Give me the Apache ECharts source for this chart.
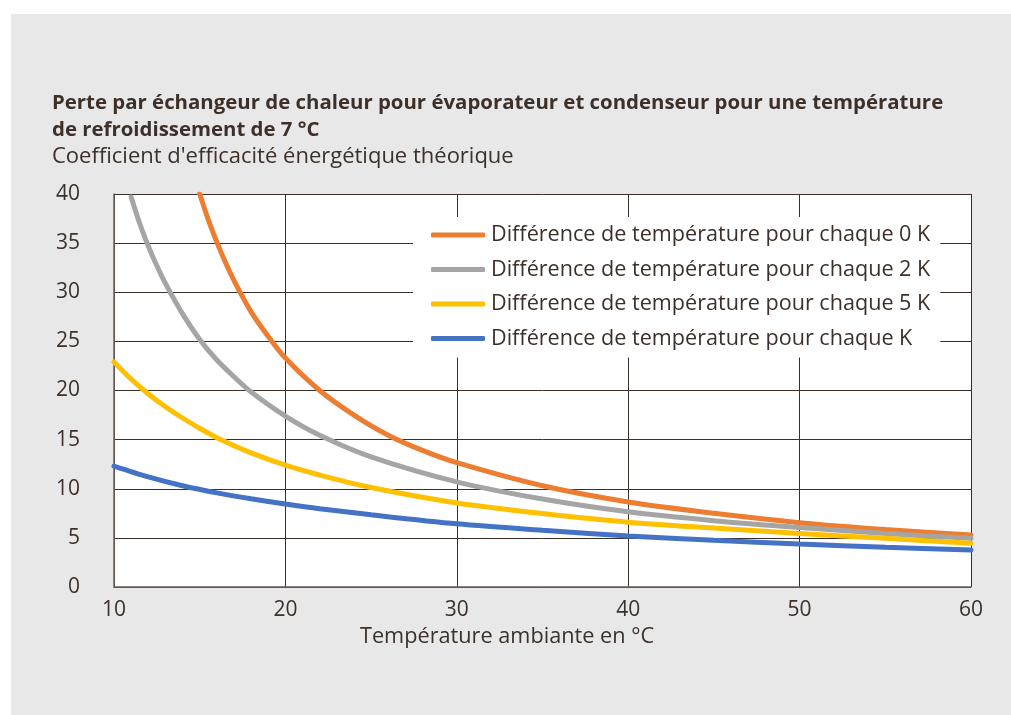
<!DOCTYPE html>
<html>
<head>
<meta charset="utf-8">
<script src="https://cdn.jsdelivr.net/npm/echarts@6/dist/echarts.min.js"></script>
<style>
  html, body { margin: 0; padding: 0; background: #ffffff; }
  #chart { width: 1011px; height: 715px; }
</style>
</head>
<body>
<div id="chart"></div>
<script>
// ---- Data ----
const seriesNames = [
  'Différence de température pour chaque 0 K',
  'Différence de température pour chaque 2 K',
  'Différence de température pour chaque 5 K',
  'Différence de température pour chaque K'
];
const xOrange = [15, 15.5, 16, 16.5, 17, 18, 19, 20, 22, 24, 26, 28, 30, 35, 40, 45, 50, 55, 60];
const yOrange = [40, 37.4, 35.1, 33.05, 31.2, 28.0, 25.5, 23.3, 20.0, 17.5, 15.45, 13.9, 12.65, 10.3, 8.65, 7.5, 6.55, 5.85, 5.3];
const xGray = [11, 11.5, 12, 12.5, 13, 14, 15, 16, 17, 18, 20, 22, 25, 30, 35, 40, 45, 50, 55, 60];
const yGray = [39.7, 37.0, 34.7, 32.7, 30.9, 27.8, 25.2, 23.1, 21.4, 19.85, 17.4, 15.45, 13.25, 10.7, 8.95, 7.65, 6.75, 6.05, 5.45, 4.95];
const xYellow = [10, 11, 12, 13, 14, 15, 16, 18, 20, 22, 25, 30, 35, 40, 45, 50, 55, 60];
const yYellow = [22.9, 21.15, 19.65, 18.35, 17.2, 16.15, 15.2, 13.65, 12.4, 11.4, 10.12, 8.55, 7.48, 6.6, 6.0, 5.45, 4.95, 4.45];
const xBlue = [10, 12, 14, 16, 18, 20, 22, 25, 30, 35, 40, 45, 50, 55, 60];
const yBlue = [12.3, 11.2, 10.3, 9.58, 8.98, 8.45, 7.97, 7.35, 6.43, 5.77, 5.2, 4.75, 4.38, 4.05, 3.77];
const colors = ['#ed7d31', '#a5a5a5', '#ffc000', '#4472c4'];
const titleText = 'Perte par échangeur de chaleur pour évaporateur et condenseur pour une température\nde refroidissement de 7 °C';
const subtitleText = "Coefficient d'efficacité énergétique théorique";
const xAxisName = 'Température ambiante en °C';

const zip = (xs, ys) => xs.map((x, i) => [x, ys[i]]);
const allData = [zip(xOrange, yOrange), zip(xGray, yGray), zip(xYellow, yYellow), zip(xBlue, yBlue)];

const FONT = 'Open Sans';
const TXT = '#3d3029';
const GRID = '#3b2f2a';

const chart = echarts.init(document.getElementById('chart'), null, { renderer: 'canvas' });
chart.setOption({
  backgroundColor: '#ffffff',
  animation: false,
  textStyle: { fontFamily: FONT, color: TXT },
  graphic: [{
    type: 'rect', z: -100, silent: true,
    shape: { x: 11, y: 14, width: 1000, height: 701 },
    style: { fill: '#e8e8e8' }
  }],
  title: [{
    text: titleText,
    left: 52, top: 90,
    padding: 0,
    textStyle: { fontFamily: FONT, fontSize: 20.4, fontWeight: 'bold', color: TXT, lineHeight: 27 }
  }, {
    text: subtitleText,
    left: 52, top: 146,
    padding: 0,
    textStyle: { fontFamily: FONT, fontSize: 22, fontWeight: 'normal', color: TXT }
  }, {
    text: xAxisName,
    left: 360, top: 626,
    padding: 0,
    textStyle: { fontFamily: FONT, fontSize: 21.7, fontWeight: 'normal', color: TXT }
  }],
  legend: {
    orient: 'vertical',
    left: 413, top: 217,
    backgroundColor: '#ffffff',
    padding: [7, 10, 8, 18],
    itemGap: 12.5,
    itemWidth: 54, itemHeight: 5,
    icon: 'roundRect',
    textStyle: { fontFamily: FONT, fontSize: 21.6, color: TXT, lineHeight: 20, height: 20, padding: [0, 0, 0, 1] },
    data: seriesNames
  },
  grid: {
    left: 114, right: 40, top: 194, bottom: 128,
    show: true, backgroundColor: '#ffffff', borderWidth: 0
  },
  xAxis: {
    type: 'value', min: 10, max: 60, interval: 10,
    axisLine: { show: true, lineStyle: { color: '#6e625b', width: 1.5 } },
    axisTick: { show: false },
    axisLabel: { fontFamily: FONT, fontSize: 21, color: TXT, margin: 13 },
    splitLine: { show: true, lineStyle: { color: GRID, width: 1 } }
  },
  yAxis: {
    type: 'value', min: 0, max: 40, interval: 5,
    axisLine: { show: true, lineStyle: { color: '#6e625b', width: 1.5 } },
    axisTick: { show: false },
    axisLabel: { fontFamily: FONT, fontSize: 21, color: TXT, margin: 34 },
    splitLine: { show: true, lineStyle: { color: GRID, width: 1 } }
  },
  series: allData.map((d, i) => ({
    name: seriesNames[i],
    type: 'line',
    data: d,
    smooth: 0.3,
    symbol: 'none',
    color: colors[i],
    lineStyle: { width: 5, color: colors[i], cap: 'round' },
    z: 2
  }))
});
</script>
</body>
</html>
